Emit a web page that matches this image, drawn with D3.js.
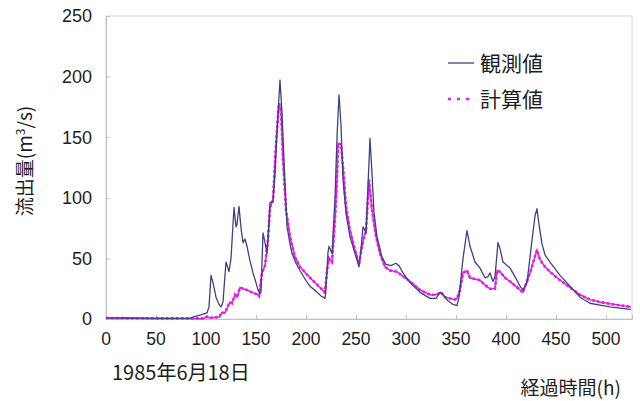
<!DOCTYPE html>
<html>
<head>
<meta charset="utf-8">
<script src="https://cdn.jsdelivr.net/npm/d3@7"></script>
<style>
  html, body { margin: 0; padding: 0; background: #fff; }
  svg { display: block; }
  .num { font-family: "Liberation Sans", Arial, sans-serif; }
  .jp { font-family: "Noto Sans CJK JP", "Noto Sans", sans-serif; }
</style>
</head>
<body>
<svg id="chart" width="640" height="401"></svg>
<script>
// Observed discharge (m3/s) against elapsed hours
const obsHours = [0,20,40,60,84,88,95,101,103,105,107,110,113,115,117,120,122,123,125,128,130,131,133,135,137,139,141,144,147,150,152,154,155,157,159,161,163,164,167,169,172,174,176,178,181,184,186,190,194,199,204,210,215,219,220,222,223,225,226,229,231,233,235,237,240,244,249,253,255,257,259,260,262,264,266,268,271,276,280,285,290,293,297,304,314,324,330,334,337,342,347,351,353,357,361,364,369,374,379,382,384,387,389,392,394,397,404,409,414,417,421,426,429,431,433,436,439,444,454,464,474,484,494,504,514,525];
const obsFlow  = [0.8,1,0.8,0.5,0.5,2,3.5,5,10,36,30,18,12,10,14,47,42,39,50,92,76,78,93,75,63,66,60,48,38,30,24,21,22,71,63,54,80,96,97,120,170,197,170,131,76,62,54,46,40,33,27,23,19,17,25,55,60,56,54,100,150,185,160,115,87,68,54,43,58,76,73,71,110,149,120,88,68,51,45,44,46,44,38,30,22,17,17,22,20,15,12,11,18,50,73,60,47,42,34,35,38,31,35,63,58,47,42,35,27,24,30,65,85,91,78,62,53,47,36,27,18,13,11.5,10,9,8];

// Computed discharge (m3/s) against elapsed hours
const calcHours = [0,50,98,101,103,113,116,119,121,124,126,129,131,134,137,141,146,152,153,156,159,162,164,167,170,173,175,177,180,184,189,194,204,214,219,221,223,226,229,231,232,235,237,240,244,249,253,256,258,260,263,266,270,274,279,284,291,299,304,314,324,330,335,339,349,351,354,357,361,364,374,379,384,389,391,394,399,404,414,417,424,428,431,434,439,444,454,464,474,484,494,504,525];
const calcFlow  = [0.8,0.5,0.5,2,1,1.5,5.5,5,9,14,13,20,18,26,25,24,22,20,19,38,44,65,92,98,145,178,172,131,90,68,51,43,34,26,22,40,50,47,82,115,145,144,126,93,73,57,45,60,68,72,115,90,68,54,43,40,39,34,31,24,20,20,22,18,16,17,24,38,40,34,32,28,25,25,40,39,34,31,24,22,38,49,57,49,43,39,32,26,20,16,14,12.5,10];

const xTicks = [0,50,100,150,200,250,300,350,400,450,500];
const yTicks = [0,50,100,150,200,250];
const seriesNames = ["観測値", "計算値"];
const dateLabel = "1985年6月18日";
const xTitle = "経過時間(h)";

const obsColor = "#404084";
const calcColor = "#e41fe4";
const axisColor = "#c0c0c0";
const textColor = "#1e1e1e";

const svg = d3.select("#chart");
const plotLeft = 106, plotRight = 632, plotTop = 16, plotBottom = 319;

const x = d3.scaleLinear().domain([0, 526]).range([plotLeft, plotRight]);
const y = d3.scaleLinear().domain([0, 250]).range([plotBottom, plotTop]);

// plot frame
svg.append("rect")
  .attr("x", plotLeft).attr("y", plotTop)
  .attr("width", plotRight - plotLeft).attr("height", plotBottom - plotTop)
  .attr("fill", "none").attr("stroke", "#d8d8d8").attr("stroke-width", 1);

// y axis with inward ticks
const yAxis = svg.append("g")
  .attr("transform", `translate(${plotLeft},0)`)
  .call(d3.axisRight(y).tickValues(yTicks).tickSize(4).tickFormat(""));
yAxis.select(".domain").attr("stroke", axisColor);
yAxis.selectAll(".tick line").attr("stroke", axisColor);

// x axis with inward ticks
const xAxis = svg.append("g")
  .attr("transform", `translate(0,${plotBottom})`)
  .call(d3.axisTop(x).tickValues(xTicks).tickSize(4).tickFormat(""));
xAxis.select(".domain").attr("stroke", axisColor);
xAxis.selectAll(".tick line").attr("stroke", axisColor);

// tick labels
svg.append("g").selectAll("text").data(yTicks).join("text")
  .attr("class", "num")
  .attr("x", 92).attr("y", d => y(d))
  .attr("dy", "0.36em")
  .attr("text-anchor", "end")
  .attr("font-size", 18)
  .attr("fill", textColor)
  .text(d => d);

svg.append("g").selectAll("text").data(xTicks).join("text")
  .attr("class", "num")
  .attr("x", d => x(d)).attr("y", 339)
  .attr("dy", "0.36em")
  .attr("text-anchor", "middle")
  .attr("font-size", 17.5)
  .attr("fill", textColor)
  .text(d => d);

// series lines
const obsData = obsHours.map((h, i) => [h, obsFlow[i]]);
const calcData = calcHours.map((h, i) => [h, calcFlow[i]]);
const line = d3.line().x(d => x(d[0])).y(d => y(d[1]));

svg.append("path")
  .datum(calcData)
  .attr("d", line)
  .attr("fill", "none")
  .attr("stroke", calcColor)
  .attr("stroke-width", 1.5);

svg.append("path")
  .datum(calcData)
  .attr("d", line)
  .attr("fill", "none")
  .attr("stroke", calcColor)
  .attr("stroke-width", 2.6)
  .attr("stroke-dasharray", "2.5,2.5");

svg.append("path")
  .datum(obsData)
  .attr("d", line)
  .attr("fill", "none")
  .attr("stroke", obsColor)
  .attr("stroke-width", 1.3)
  .attr("stroke-linejoin", "round");

// legend
const legend = svg.append("g");
const legendRows = [
  { name: seriesNames[0], y: 63, color: obsColor, dash: null, w: 1.3 },
  { name: seriesNames[1], y: 99, color: calcColor, dash: "3,6", w: 2.6 }
];
legendRows.forEach(r => {
  legend.append("line")
    .attr("x1", 448).attr("x2", 474)
    .attr("y1", r.y).attr("y2", r.y)
    .attr("stroke", r.color)
    .attr("stroke-width", r.w)
    .attr("stroke-dasharray", r.dash);
  legend.append("text")
    .attr("class", "jp")
    .attr("x", 480).attr("y", r.y)
    .attr("dy", "0.36em")
    .attr("font-size", 21)
    .attr("fill", textColor)
    .text(r.name);
});

// y axis title, rotated
const yTitle = svg.append("text")
  .attr("class", "jp")
  .attr("transform", "translate(25,161) rotate(-90)")
  .attr("dy", "0.36em")
  .attr("text-anchor", "middle")
  .attr("font-size", 19)
  .attr("fill", textColor);
yTitle.append("tspan").text("流出量(m");
yTitle.append("tspan").attr("dy", -7).attr("font-size", 12).text("3");
yTitle.append("tspan").attr("dy", 7).text("/s)");

// date label and x axis title
svg.append("text")
  .attr("class", "jp")
  .attr("x", 112).attr("y", 373)
  .attr("dy", "0.36em")
  .attr("font-size", 20)
  .attr("fill", textColor)
  .text(dateLabel);

svg.append("text")
  .attr("class", "jp")
  .attr("x", 621).attr("y", 388)
  .attr("dy", "0.36em")
  .attr("text-anchor", "end")
  .attr("font-size", 19)
  .attr("fill", textColor)
  .text(xTitle);
</script>
</body>
</html>
